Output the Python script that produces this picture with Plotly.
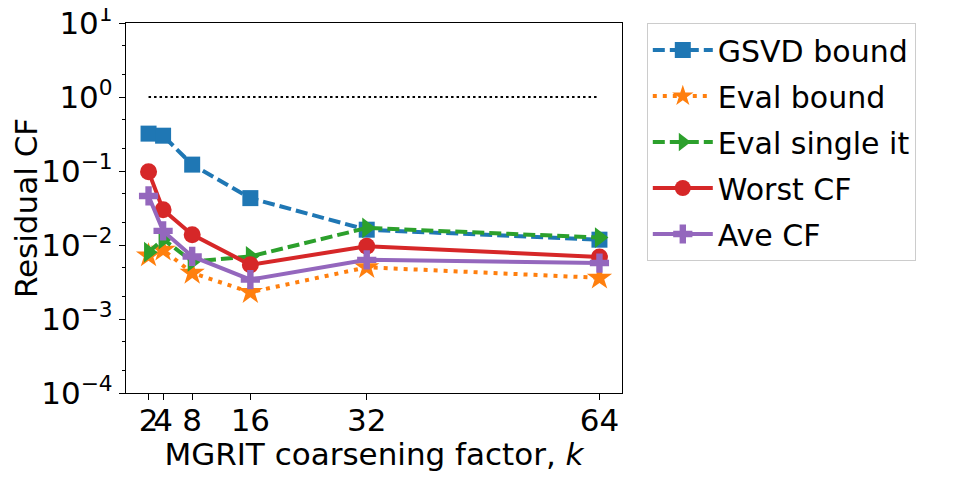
import plotly.graph_objects as go

# ── data ──────────────────────────────────────────────────────────
k = [2, 4, 8, 16, 32, 64]
gsvd_bound = [0.32, 0.30, 0.122, 0.043, 0.0161, 0.0118]
eval_bound = [0.0072, 0.0086, 0.0042, 0.0023, 0.0050, 0.0036]
eval_single = [0.0080, 0.0120, 0.0060, 0.0070, 0.0170, 0.0126]
worst_cf = [0.098, 0.030, 0.0138, 0.0054, 0.0096, 0.0069]
ave_cf = [0.046, 0.0155, 0.0070, 0.0034, 0.0063, 0.0057]
ref_k = [2, 64]
ref_level = [1, 1]

ytick_vals = [1e-4, 1e-3, 1e-2, 1e-1, 1e0, 1e1]
ytick_text = ['10<sup>−4</sup>', '10<sup>−3</sup>', '10<sup>−2</sup>',
              '10<sup>−1</sup>', '10<sup>0</sup>', '10<sup>1</sup>']

FONT = 'DejaVu Sans'

series = [
    ('GSVD bound', gsvd_bound, '#1f77b4', '12px,5px', 'square', 16),
    ('Eval bound', eval_bound, '#ff7f0e', '4px,6px', 'star', 19),
    ('Eval single it', eval_single, '#2ca02c', '12px,5px', 'triangle-right', 18),
    ('Worst CF', worst_cf, '#d62728', 'solid', 'circle', 17),
    ('Ave CF', ave_cf, '#9467bd', 'solid', 'cross', 16),
]

fig = go.Figure()

fig.add_trace(go.Scatter(
    x=ref_k, y=ref_level, mode='lines',
    line=dict(color='black', width=2.2, dash='2.5px,3px'),
    showlegend=False, hoverinfo='skip'
))

for i, (name, vals, col, dash, sym, size) in enumerate(series):
    fig.add_trace(go.Scatter(
        x=k, y=vals, name=name, mode='lines+markers',
        line=dict(color=col, width=4, dash=dash),
        marker=dict(symbol=sym, size=size, color=col),
        legendgroup=f'g{i}'
    ))

# page body adds an 8px margin, so the figure is 16px smaller than the window
fig.update_layout(
    width=945, height=464,
    margin=dict(l=118, r=331, t=15, b=79, autoexpand=False),
    paper_bgcolor='white', plot_bgcolor='white',
    font=dict(family=FONT, size=31, color='black'),
    legend=dict(
        x=1.05, y=1.0, xanchor='left', yanchor='top',
        font=dict(family=FONT, size=30),
        bordercolor='#cccccc', borderwidth=1,
        tracegroupgap=4, itemwidth=60,
    ),
)

fig.update_xaxes(
    range=[-1.1, 67.1], tickvals=k, ticktext=[str(v) for v in k],
    tickangle=0, automargin=False, ticklabelstandoff=-6,
    showgrid=False, zeroline=False,
    showline=True, linecolor='black', linewidth=1.3, mirror=True,
    ticks='outside', ticklen=6, tickcolor='black',
    tickfont=dict(size=31),
    title=dict(text='MGRIT coarsening factor, <i>k</i>', standoff=2,
               font=dict(size=31)),
)

fig.update_yaxes(
    type='log', range=[-4, 1], automargin=False,
    tickvals=ytick_vals, ticktext=ytick_text, ticklabeloverflow='allow',
    showgrid=False, zeroline=False,
    showline=True, linecolor='black', linewidth=1.3, mirror=True,
    ticks='outside', ticklen=6, tickcolor='black',
    tickfont=dict(size=31),
    minor=dict(ticks='outside', ticklen=3, tickcolor='black', showgrid=False),
    title=dict(text='Residual CF', standoff=20, font=dict(size=31)),
)

fig.write_html('out.html')
